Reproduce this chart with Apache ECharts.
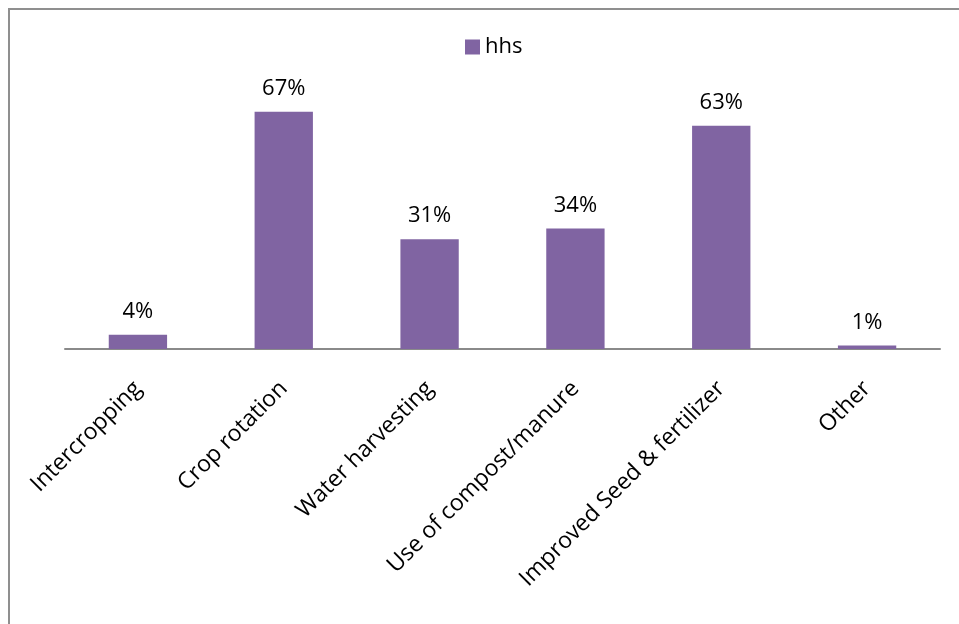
<!DOCTYPE html>
<html>
<head>
<meta charset="utf-8">
<title>hhs</title>
<script src="https://cdn.jsdelivr.net/npm/echarts@6/dist/echarts.min.js"></script>
<style>
  html, body { margin: 0; padding: 0; background: #ffffff; }
  #chart { width: 959px; height: 624px; }
</style>
</head>
<body>
<div id="chart"></div>
<script>
// Practices adopted, share of households (%)
const categories = [
  'Intercropping',
  'Crop rotation',
  'Water harvesting',
  'Use of compost/manure',
  'Improved Seed & fertilizer',
  'Other'
];
const seriesName = 'hhs';
const hhsValues = [4, 67, 31, 34, 63, 1];

const FONT = '"Open Sans", "Liberation Sans", sans-serif';
const PURPLE = '#8064A2';

const chart = echarts.init(document.getElementById('chart'), null, { renderer: 'canvas' });

chart.setOption({
  backgroundColor: '#ffffff',
  animation: false,
  graphic: [{
    type: 'rect',
    shape: { x: 9, y: 9, width: 1000, height: 1000 },
    style: { fill: 'none', stroke: '#8f8f8f', lineWidth: 2 },
    silent: true,
    z: -10
  }],
  legend: {
    data: [seriesName],
    left: 465,
    top: 36,
    padding: 0,
    itemWidth: 15,
    itemHeight: 15,
    icon: 'rect',
    textStyle: { fontFamily: FONT, fontSize: 22, color: '#000000' }
  },
  grid: {
    left: 65,
    right: 19,
    top: 101,
    bottom: 275,
    containLabel: false
  },
  xAxis: {
    type: 'category',
    data: categories,
    axisLine: { show: true, lineStyle: { color: '#8a8a8a', width: 2 } },
    axisTick: { show: false },
    axisLabel: {
      interval: 0,
      rotate: 45,
      margin: 36,
      fontFamily: FONT,
      fontSize: 23,
      color: '#000000'
    }
  },
  yAxis: {
    type: 'value',
    min: 0,
    max: 70,
    show: false,
    splitLine: { show: false }
  },
  series: [{
    name: seriesName,
    type: 'bar',
    data: hhsValues,
    barCategoryGap: '60%',
    itemStyle: { color: PURPLE },
    label: {
      show: true,
      position: 'top',
      distance: 12,
      formatter: '{c}%',
      fontFamily: FONT,
      fontSize: 22,
      color: '#000000'
    }
  }]
});
</script>
</body>
</html>
